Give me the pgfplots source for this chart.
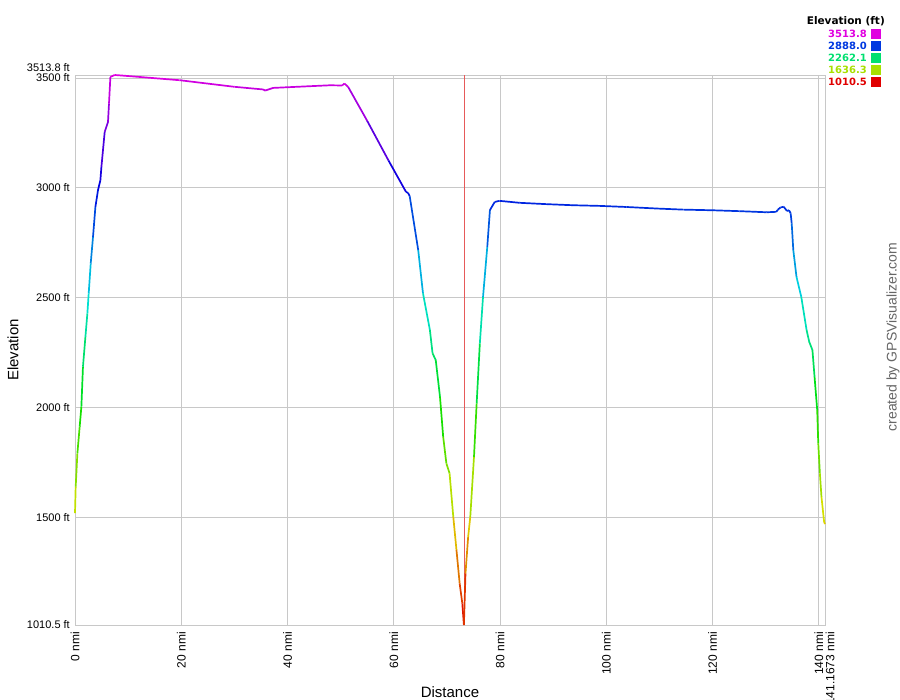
\documentclass[border=0pt]{standalone}
\usepackage{pgfplots}
\pgfplotsset{compat=1.18}
\usepackage{fontspec}
\setmainfont{Liberation Sans}
\newfontfamily\legfont{DejaVu Sans}
\definecolor{gridgray}{RGB}{200,200,200}
\definecolor{cA}{RGB}{224,0,224}
\definecolor{cB}{RGB}{0,56,224}
\definecolor{cC}{RGB}{0,224,112}
\definecolor{cD}{RGB}{168,224,0}
\definecolor{cE}{RGB}{224,0,0}
\begin{document}
\begin{tikzpicture}[x=1pt,y=1pt]
\path[use as bounding box] (0,0) rectangle (900,700);
\begin{axis}[
  at={(75pt,75pt)}, anchor=south west,
  width=750pt, height=550pt, scale only axis,
  xmin=0, xmax=141.1673, ymin=1010.5, ymax=3513.8,
  clip=false,
  axis line style={gridgray},
  tick style={draw=none},
  grid=major, major grid style={gridgray, line width=0.8pt},
  xtick={0,20,40,60,80,100,120,140},
  xticklabels={0 nmi,20 nmi,40 nmi,60 nmi,80 nmi,100 nmi,120 nmi,140 nmi},
  extra x ticks={141.1673},
  extra x tick labels={141.1673 nmi},
  extra x tick style={grid=major, xticklabel style={yshift=-5pt}},
  xticklabel style={rotate=90, anchor=east, font=\fontsize{12}{13}\selectfont, inner sep=0pt, xshift=-7pt},
  ytick={1010.5,1500,2000,2500,3000,3500},
  yticklabels={1010.5 ft,1500 ft,2000 ft,2500 ft,3000 ft,3500 ft},
  extra y ticks={3513.8},
  extra y tick labels={3513.8 ft},
  extra y tick style={grid=major, yticklabel style={yshift=7pt}},
  yticklabel style={font=\fontsize{11}{12}\selectfont, inner sep=0pt, anchor=east, xshift=-5pt},
  xlabel={Distance}, ylabel={Elevation},
  xlabel style={font=\fontsize{15}{17}\selectfont, at={(axis description cs:0.5,0)}, anchor=center, yshift=-67pt},
  ylabel style={font=\fontsize{15}{17}\selectfont, at={(axis description cs:-0.0827,0.5)}, anchor=center, rotate=0},
  colormap={gps}{rgb255(0cm)=(224,0,0); rgb255(1cm)=(224,224,0); rgb255(2cm)=(0,224,0); rgb255(3cm)=(0,224,224); rgb255(4cm)=(0,0,224); rgb255(5cm)=(224,0,224)},
  point meta min=1010.5, point meta max=3513.8,
]
\addplot[color={rgb,255:red,230;green,90;blue,90}, line width=0.7pt] coordinates {(73.2,1010.5) (73.2,3513.8)};
\addplot[mesh, point meta=y, line width=1.7pt, line join=round] table {
x y
0 1520
0.13 1640
0.45 1792
0.88 1913
1.2 2004
1.5 2186
1.96 2322
2.33 2429
2.58 2520
2.96 2656
3.39 2777
3.84 2913
4.33 2990
4.78 3035
4.97 3095
5.59 3255
6.21 3300
6.40 3384
6.66 3505
7.47 3513.8
9.0 3511
19.7 3490
30 3460
35.4 3448
35.8 3443
37.3 3455
48 3467
50.3 3466
50.7 3475
51.4 3460
55 3305
59 3125
62.3 2982
62.7 2977
63.0 2962
64.6 2717
65.5 2520
66.8 2353
67.3 2247
67.9 2216
68.7 2049
69.3 1867
69.9 1746
70.5 1701
71.2 1503
71.8 1352
72.4 1200
72.9 1109
73.2 1010.5
73.5 1246
74.0 1412
74.4 1503
75.1 1776
75.6 2019
76.2 2292
76.8 2504
77.6 2732
78.1 2899
79.0 2936
79.9 2941
83.7 2932
88.7 2926
93.7 2921
98.8 2918
103.8 2913
109.5 2906
114.5 2901
120.1 2898
125.1 2894
130.2 2889
132.0 2891
132.3 2901
132.8 2911
133.4 2914
134.0 2895
134.4 2898
134.7 2884
134.9 2838
135.2 2717
135.8 2595
136.7 2504
137.7 2353
138.2 2299
138.8 2262
139.2 2140
139.7 1989
139.9 1837
140.2 1701
140.5 1594
141.0 1480
141.1673 1470
};
\end{axis}
% legend
\node[anchor=east, font=\legfont\bfseries\fontsize{10.5}{11}\selectfont, inner sep=0pt] at (885,679) {Elevation (ft)};
\foreach \v/\c/\yy in {3513.8/cA/665.7, 2888.0/cB/653.8, 2262.1/cC/641.9, 1636.3/cD/630, 1010.5/cE/618.1}{
  \node[anchor=east, font=\legfont\bfseries\fontsize{10}{10}\selectfont, text=\c, inner sep=0pt] at (867,\yy) {\v};
  \fill[\c] (871,\yy-5) rectangle (881,\yy+5);
}
\node[rotate=90, font=\fontsize{14}{16}\selectfont, text=black!60, inner sep=0pt] at (893,363) {created by GPSVisualizer.com};
\end{tikzpicture}
\end{document}
